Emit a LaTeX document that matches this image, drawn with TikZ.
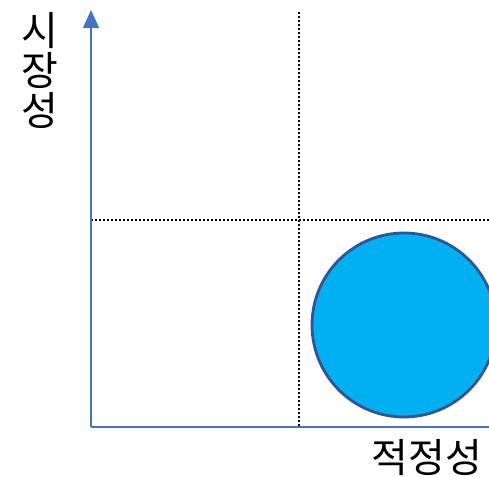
\documentclass[tikz,border=0pt]{standalone}
\usepackage{fontspec}
\newfontfamily\kr{Noto Sans CJK KR}
\usetikzlibrary{arrows.meta}
\definecolor{axisblue}{HTML}{4472C4}
\definecolor{fillblue}{HTML}{00B0F0}
\definecolor{edgeblue}{HTML}{2F5597}
\tikzset{
  axisline/.style={draw=axisblue, line width=1.3pt},
  gridline/.style={draw=black, line width=2pt, dash pattern=on 2pt off 2pt},
  lbl/.style={font=\kr\fontsize{40}{44}\selectfont, inner sep=0pt, text=black}
}
\begin{document}
\begin{tikzpicture}[x=1pt,y=-1pt]
\useasboundingbox (0,0) rectangle (489,476);
\clip (0,0) rectangle (489,476);
\coordinate (O) at (91,427);
\coordinate (Ytop) at (91,10);
\coordinate (Xend) at (489,427);
\coordinate (Vtop) at (299,12);
\coordinate (Vbot) at (299,427);
\coordinate (Hl) at (91,220);
\coordinate (Hr) at (489,220);
\draw[gridline] (Vtop) -- (Vbot);
\draw[gridline] (Hl) -- (Hr);
\draw[axisline, -{Triangle[length=18pt,width=16pt]}] (O) -- (Ytop);
\draw[axisline] (O) -- (Xend);
\node[circle, minimum size=184pt, inner sep=0pt, fill=fillblue, draw=edgeblue, line width=2.8pt] (c) at (404,325) {};
\node[lbl, align=center] (ylab) at (40,70) {시\\[-4pt]장\\[-4pt]성};
\node[lbl, anchor=north east] (xlab) at (482,439) {적정성};
\end{tikzpicture}
\end{document}
